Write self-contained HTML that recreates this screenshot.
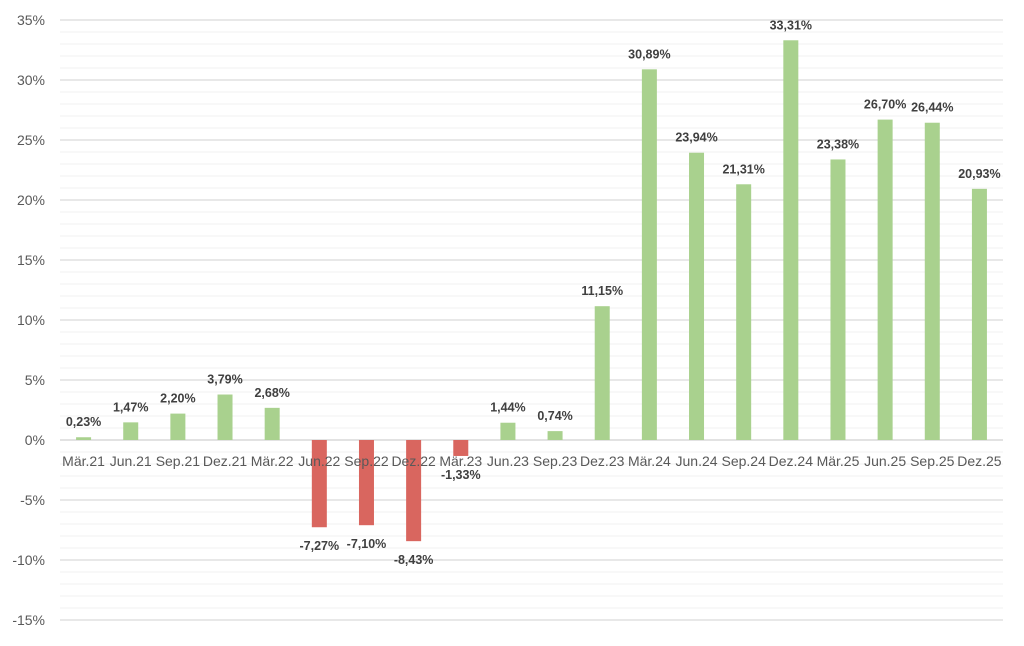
<!DOCTYPE html>
<html><head><meta charset="utf-8"><style>
body{margin:0;background:#fff}
svg text{font-family:"Liberation Sans",Arial,sans-serif}
</style></head><body>
<svg id="c" width="1024" height="641" xmlns="http://www.w3.org/2000/svg"></svg>
<script>
const s=document.getElementById('c');
let h='';
const y0=440,k=12,x0=60,cw=47.15;
for(let p=-15;p<=35;p++){
  const y=y0-p*k;
  if(p%5===0){h+=`<line x1="60" x2="1003" y1="${y}" y2="${y}" stroke="${p===0?'#d0d0d0':'#d9d9d9'}" stroke-width="1.3"/>`;
  h+=`<text x="45" y="${y+5}" font-size="14" fill="#595959" text-anchor="end">${p}%</text>`;}
  else h+=`<line x1="60" x2="1003" y1="${y}" y2="${y}" stroke="#f0f0f0" stroke-width="1"/>`;
}
const d=[["Mär.21",0.23],["Jun.21",1.47],["Sep.21",2.20],["Dez.21",3.79],["Mär.22",2.68],["Jun.22",-7.27],["Sep.22",-7.10],["Dez.22",-8.43],["Mär.23",-1.33],["Jun.23",1.44],["Sep.23",0.74],["Dez.23",11.15],["Mär.24",30.89],["Jun.24",23.94],["Sep.24",21.31],["Dez.24",33.31],["Mär.25",23.38],["Jun.25",26.70],["Sep.25",26.44],["Dez.25",20.93]];
let lab='';
d.forEach((e,i)=>{
  const c=x0+(i+0.5)*cw,v=e[1],hgt=Math.abs(v)*k;
  const col=v>=0?'#a9d18e':'#d9665f';
  const y=v>=0?y0-hgt:y0;
  h+=`<rect x="${c-7.5}" y="${y}" width="15" height="${hgt}" fill="${col}"/>`;
  const t=(v<0?'-':'')+Math.abs(v).toFixed(2).replace('.',',')+'%';
  const ly=v>=0?y0-hgt-11:y0+hgt+23;
  lab+=`<text x="${c}" y="${ly}" font-size="12.5" font-weight="bold" fill="#404040" text-anchor="middle">${t}</text>`;
  lab+=`<text x="${c}" y="466" font-size="14" fill="#595959" text-anchor="middle">${e[0]}</text>`;
});
s.innerHTML=h+lab;
</script>
</body></html>
